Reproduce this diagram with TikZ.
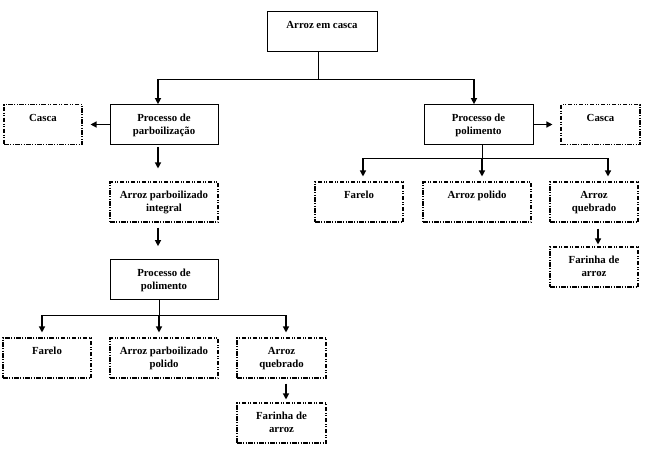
\documentclass[tikz,border=0pt]{standalone}
\usepackage{fontspec}
\setmainfont{Liberation Serif}
\usetikzlibrary{arrows.meta,calc}
\newcommand{\bxt}[2]{\parbox[c][30pt][t]{#1}{\centering\fontsize{10.8}{13}\selectfont\bfseries\rule{0pt}{11.5pt}#2}}
\tikzset{
  solidbox/.style={draw, line width=0.7pt, inner xsep=2pt, inner ysep=5pt, minimum height=40pt},
  dashbox/.style={draw, line width=1.1pt, inner xsep=2pt, inner ysep=5pt, minimum height=40pt,
    dash pattern=on 4.5pt off 1.5pt on 1pt off 1.5pt on 1pt off 1.5pt},
  arr/.style={line width=1.3pt, -{Triangle[length=6pt,width=6pt]}},
  thin line/.style={line width=0.7pt}
}
\begin{document}
\begin{tikzpicture}[x=1pt,y=-1pt]
\useasboundingbox (0,0) rectangle (646,459);
% boxes
\node[solidbox] (top) at (322,31.5) {\bxt{106pt}{Arroz em casca}};
\node[solidbox] (parb) at (164,124.5) {\bxt{104pt}{Processo de\\parboilização}};
\node[dashbox] (cascaL) at (43,124.5) {\bxt{74pt}{Casca}};
\node[solidbox] (polR) at (478.5,124.5) {\bxt{105pt}{Processo de\\polimento}};
\node[dashbox] (cascaR) at (600.5,124.5) {\bxt{75pt}{Casca}};
\node[dashbox] (integral) at (164,202) {\bxt{104pt}{Arroz parboilizado\\integral}};
\node[solidbox] (polL) at (164,279.5) {\bxt{104pt}{Processo de\\polimento}};
\node[dashbox] (fareloL) at (47,358) {\bxt{84pt}{Farelo}};
\node[dashbox] (polido) at (164,358) {\bxt{104pt}{Arroz parboilizado\\polido}};
\node[dashbox] (quebL) at (281.5,358) {\bxt{85pt}{Arroz\\quebrado}};
\node[dashbox] (farinhaL) at (281.5,423) {\bxt{85pt}{Farinha de\\arroz}};
\node[dashbox] (fareloR) at (359,202) {\bxt{84pt}{Farelo}};
\node[dashbox] (arrozpol) at (477,202) {\bxt{104pt}{Arroz polido}};
\node[dashbox] (quebR) at (594,202) {\bxt{84pt}{Arroz\\quebrado}};
\node[dashbox] (farinhaR) at (594,267) {\bxt{84pt}{Farinha de\\arroz}};
% top tree
\coordinate (j0) at (318,79);
\coordinate (jl) at (158,79);
\coordinate (jr) at (474,79);
\draw[thin line] (top.south -| j0) -- (j0);
\draw[thin line] (jl) -- (jr);
\draw[arr] (jl) -- (jl |- parb.north);
\draw[arr] (jr) -- (jr |- polR.north);
% side arrows
\draw[arr, shorten >=8pt] (parb.west) -- (cascaL.east);
\draw[arr, shorten >=8pt] (polR.east) -- (cascaR.west);
% left chain
\coordinate (cl) at (158,0);
\draw[arr, shorten <=2pt, shorten >=13pt] (parb.south -| cl) -- (integral.north -| cl);
\draw[arr, shorten <=5pt, shorten >=13pt] (integral.south -| cl) -- (polL.north -| cl);
% bottom-left tree
\coordinate (b0) at (159,315);
\coordinate (bl) at (42,315);
\coordinate (br) at (286,315);
\draw[thin line] (polL.south -| b0) -- (b0);
\draw[thin line] (bl) -- (br);
\draw[arr, shorten >=5pt] (bl) -- (bl |- fareloL.north);
\draw[arr, shorten >=5pt] (b0) -- (b0 |- polido.north);
\draw[arr, shorten >=5pt] (br) -- (br |- quebL.north);
\draw[arr, shorten <=5pt, shorten >=3pt] (quebL.south -| br) -- (farinhaL.north -| br);
% right tree
\coordinate (r0) at (482,158);
\coordinate (rl) at (363,158);
\coordinate (rr) at (608,158);
\draw[thin line] (polR.south -| r0) -- (r0);
\draw[thin line] (rl) -- (rr);
\draw[arr, shorten >=5pt] (rl) -- (rl |- fareloR.north);
\draw[arr, shorten >=5pt] (r0) -- (r0 |- arrozpol.north);
\draw[arr, shorten >=5pt] (rr) -- (rr |- quebR.north);
\coordinate (rq) at (598,0);
\draw[arr, shorten <=6pt, shorten >=2pt] (quebR.south -| rq) -- (farinhaR.north -| rq);
\end{tikzpicture}
\end{document}
